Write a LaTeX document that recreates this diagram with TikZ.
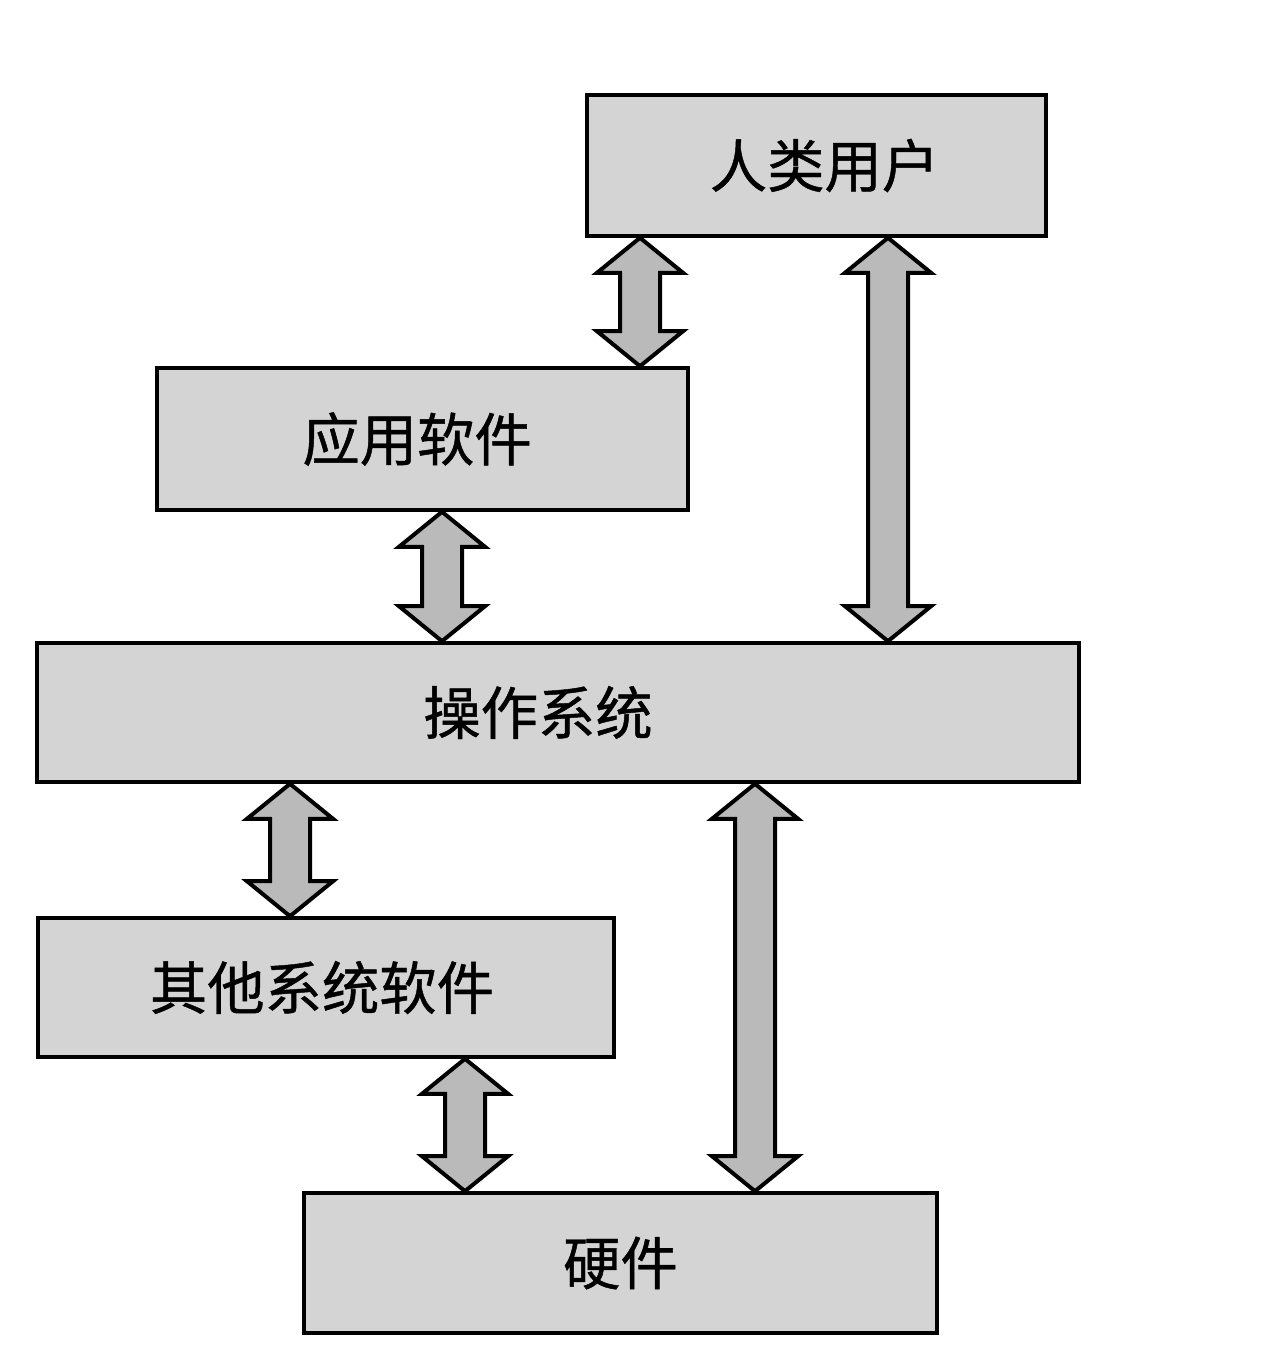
\documentclass[tikz,border=0pt]{standalone}
\usepackage{fontspec}
\usepackage{tikz}
\usetikzlibrary{calc}
\newfontfamily\cjk[FakeBold=0.8]{Noto Sans CJK SC}

\definecolor{boxgray}{RGB}{212,212,212}
\definecolor{arrowgray}{RGB}{186,186,186}

\tikzset{
  layer/.style={draw=black, line width=2.7pt, fill=boxgray, inner sep=0pt,
    font=\cjk\fontsize{43}{50}\selectfont},
  fatarrow/.style={draw=black, line width=3pt, fill=arrowgray, line join=miter}
}

% double block arrow, from top tip #1 down to bottom tip #2
\newcommand{\dblarrow}[2]{%
  \draw[fatarrow] (#1) -- ($(#1)+(43,35)$) -- ($(#1)+(20,35)$) -- ($(#2)+(20,-35)$)
    -- ($(#2)+(43,-35)$) -- (#2) -- ($(#2)+(-43,-35)$) -- ($(#2)+(-20,-35)$)
    -- ($(#1)+(-20,35)$) -- ($(#1)+(-43,35)$) -- cycle;}

\begin{document}
\begin{tikzpicture}[x=0.75pt,y=0.75pt,yscale=-1,xscale=1]
\useasboundingbox[fill=white] (0,0) rectangle (1279,1357);

%Boxes
\node [layer, minimum width=344.25pt, minimum height=105.75pt] (user) at (816.5,165.5) {\kern12pt人类用户};
\node [layer, minimum width=398.25pt, minimum height=106.5pt] (app) at (422.5,439) {应用软件\kern8pt};
\node [layer, minimum width=781.5pt, minimum height=104.25pt] (os) at (558,712.5) {操作系统\kern30pt};
\node [layer, minimum width=432pt, minimum height=104.25pt] (other) at (326,987.5) {其他系统软件\kern6pt};
\node [layer, minimum width=474.75pt, minimum height=105pt] (hw) at (620.5,1263) {硬件};

%Arrows
\dblarrow{640,0 |- user.south}{640,0 |- app.north}
\dblarrow{888,0 |- user.south}{888,0 |- os.north}
\dblarrow{442,0 |- app.south}{442,0 |- os.north}
\dblarrow{290,0 |- os.south}{290,0 |- other.north}
\dblarrow{755,0 |- os.south}{755,0 |- hw.north}
\dblarrow{465,0 |- other.south}{465,0 |- hw.north}

\end{tikzpicture}
\end{document}
